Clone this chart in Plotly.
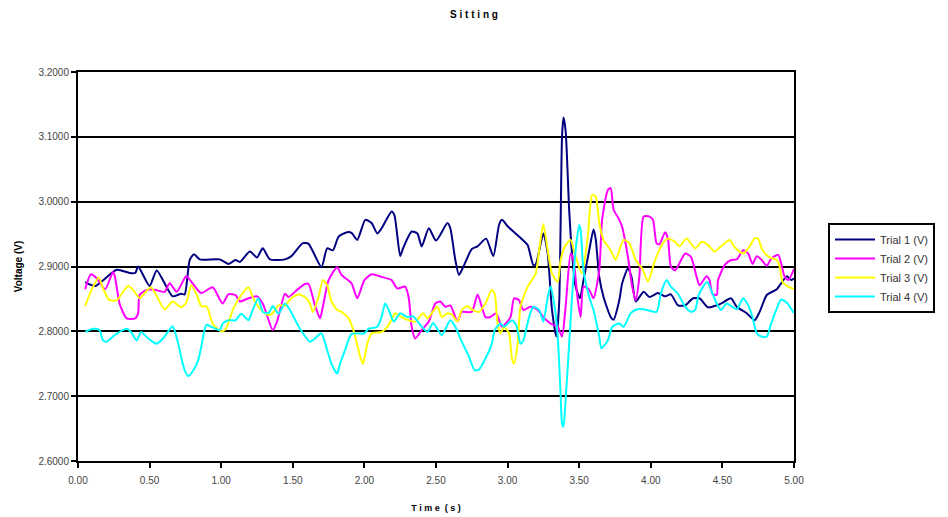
import plotly.graph_objects as go

# Trial 1 (V)
t1 = [0.05, 0.12, 0.27, 0.36, 0.40, 0.42, 0.50, 0.55, 0.66, 0.72, 0.745, 0.78, 0.81, 0.85, 0.99,
      1.05, 1.10, 1.13, 1.20, 1.25, 1.29, 1.34, 1.445, 1.49, 1.57, 1.61, 1.70, 1.74, 1.78, 1.82,
      1.88, 1.91, 1.95, 2.006, 2.05, 2.09, 2.12, 2.19, 2.21, 2.25, 2.27, 2.33, 2.37, 2.40, 2.45,
      2.50, 2.58, 2.60, 2.635, 2.66, 2.69, 2.75, 2.79, 2.85, 2.90, 2.94, 2.96, 3.005, 3.045, 3.11,
      3.14, 3.18, 3.196, 3.25, 3.28, 3.31, 3.34, 3.36, 3.38, 3.39, 3.405, 3.43, 3.45, 3.475, 3.505,
      3.53, 3.57, 3.60, 3.615, 3.64, 3.67, 3.72, 3.74, 3.78, 3.80, 3.84, 3.865, 3.895, 3.95, 3.99,
      4.05, 4.10, 4.14, 4.19, 4.24, 4.295, 4.34, 4.40, 4.46, 4.50, 4.56, 4.60, 4.67, 4.725, 4.76,
      4.81, 4.88, 4.91, 4.95, 4.98, 5.00]
v1 = [2.876, 2.870, 2.895, 2.890, 2.890, 2.900, 2.870, 2.894, 2.854, 2.858, 2.857, 2.910, 2.919, 2.911, 2.911,
      2.904, 2.910, 2.907, 2.923, 2.914, 2.928, 2.911, 2.911, 2.916, 2.936, 2.935, 2.899, 2.928, 2.925, 2.946,
      2.953, 2.952, 2.941, 2.972, 2.967, 2.951, 2.959, 2.985, 2.979, 2.916, 2.928, 2.954, 2.951, 2.931, 2.959,
      2.940, 2.967, 2.959, 2.910, 2.887, 2.899, 2.927, 2.931, 2.943, 2.916, 2.964, 2.972, 2.961, 2.953, 2.940,
      2.933, 2.902, 2.903, 2.951, 2.920, 2.833, 2.792, 2.843, 3.100, 3.130, 3.110, 2.987, 2.920, 2.869, 2.851,
      2.879, 2.925, 2.957, 2.943, 2.884, 2.853, 2.822, 2.818, 2.848, 2.874, 2.897, 2.884, 2.846, 2.861, 2.853,
      2.859, 2.854, 2.857, 2.840, 2.840, 2.851, 2.851, 2.837, 2.840, 2.844, 2.851, 2.838, 2.828, 2.817, 2.830,
      2.856, 2.865, 2.874, 2.885, 2.879, 2.882]

# Trial 2 (V)
t2 = [0.05, 0.09, 0.13, 0.19, 0.245, 0.26, 0.29, 0.34, 0.40, 0.42, 0.43, 0.48, 0.535, 0.605, 0.64,
      0.69, 0.756, 0.80, 0.86, 0.94, 1.01, 1.05, 1.10, 1.13, 1.19, 1.25, 1.29, 1.36, 1.39, 1.445,
      1.47, 1.53, 1.585, 1.61, 1.655, 1.69, 1.71, 1.75, 1.81, 1.84, 1.91, 1.95, 2.00, 2.05, 2.12,
      2.19, 2.23, 2.285, 2.31, 2.33, 2.355, 2.40, 2.45, 2.495, 2.53, 2.565, 2.60, 2.65, 2.68, 2.75,
      2.79, 2.82, 2.845, 2.88, 2.92, 2.96, 3.02, 3.045, 3.08, 3.11, 3.16, 3.21, 3.25, 3.30, 3.35,
      3.38, 3.405, 3.44, 3.46, 3.49, 3.51, 3.53, 3.57, 3.60, 3.64, 3.66, 3.70, 3.72, 3.74, 3.78,
      3.80, 3.84, 3.87, 3.895, 3.92, 3.95, 3.99, 4.015, 4.04, 4.06, 4.10, 4.12, 4.14, 4.17, 4.24,
      4.28, 4.32, 4.34, 4.39, 4.41, 4.43, 4.46, 4.47, 4.515, 4.56, 4.60, 4.645, 4.68, 4.71, 4.74,
      4.77, 4.81, 4.84, 4.89, 4.91, 4.935, 4.96, 5.00]
v2 = [2.865, 2.888, 2.882, 2.865, 2.892, 2.882, 2.843, 2.820, 2.820, 2.828, 2.856, 2.864, 2.864, 2.861, 2.874,
      2.861, 2.885, 2.874, 2.859, 2.868, 2.843, 2.857, 2.856, 2.846, 2.851, 2.854, 2.843, 2.802, 2.815, 2.858,
      2.853, 2.864, 2.873, 2.873, 2.840, 2.820, 2.838, 2.879, 2.899, 2.887, 2.874, 2.851, 2.879, 2.888, 2.884,
      2.879, 2.866, 2.869, 2.851, 2.807, 2.789, 2.802, 2.815, 2.843, 2.846, 2.838, 2.840, 2.815, 2.830, 2.830,
      2.857, 2.838, 2.822, 2.822, 2.828, 2.807, 2.822, 2.851, 2.848, 2.833, 2.838, 2.833, 2.822, 2.812, 2.807,
      2.792, 2.838, 2.920, 2.910, 2.848, 2.822, 2.869, 2.864, 2.851, 2.894, 2.972, 3.018, 3.021, 2.988, 2.972,
      2.961, 2.915, 2.869, 2.848, 2.884, 2.977, 2.977, 2.972, 2.936, 2.934, 2.953, 2.943, 2.900, 2.894, 2.920,
      2.915, 2.884, 2.871, 2.885, 2.879, 2.858, 2.856, 2.879, 2.902, 2.910, 2.911, 2.925, 2.920, 2.904, 2.916,
      2.911, 2.901, 2.912, 2.918, 2.905, 2.884, 2.879, 2.896]

# Trial 3 (V)
t3 = [0.05, 0.095, 0.145, 0.175, 0.22, 0.27, 0.35, 0.38, 0.43, 0.45, 0.51, 0.605, 0.66, 0.72, 0.756,
      0.79, 0.83, 0.86, 0.90, 0.94, 1.00, 1.03, 1.085, 1.14, 1.19, 1.22, 1.27, 1.33, 1.36, 1.40,
      1.445, 1.49, 1.54, 1.585, 1.62, 1.64, 1.68, 1.71, 1.74, 1.77, 1.81, 1.84, 1.89, 1.93, 1.97,
      1.99, 2.02, 2.05, 2.12, 2.17, 2.215, 2.26, 2.31, 2.355, 2.41, 2.44, 2.47, 2.51, 2.54, 2.58,
      2.61, 2.65, 2.68, 2.72, 2.75, 2.80, 2.845, 2.89, 2.91, 2.93, 2.95, 2.975, 3.01, 3.03, 3.045,
      3.07, 3.09, 3.14, 3.196, 3.22, 3.25, 3.28, 3.31, 3.35, 3.37, 3.405, 3.44, 3.475, 3.52, 3.56,
      3.59, 3.615, 3.64, 3.67, 3.72, 3.755, 3.78, 3.81, 3.85, 3.895, 3.94, 3.98, 4.03, 4.085, 4.12,
      4.17, 4.20, 4.25, 4.31, 4.355, 4.40, 4.445, 4.50, 4.55, 4.585, 4.645, 4.68, 4.725, 4.75, 4.78,
      4.83, 4.88, 4.90, 4.92, 4.96, 5.00]
v3 = [2.839, 2.864, 2.883, 2.866, 2.848, 2.848, 2.870, 2.865, 2.851, 2.855, 2.868, 2.834, 2.846, 2.837, 2.844,
      2.871, 2.856, 2.839, 2.838, 2.812, 2.800, 2.803, 2.835, 2.856, 2.868, 2.853, 2.835, 2.825, 2.828, 2.840,
      2.840, 2.851, 2.857, 2.853, 2.843, 2.830, 2.853, 2.879, 2.871, 2.846, 2.833, 2.830, 2.820, 2.797, 2.761,
      2.750, 2.781, 2.797, 2.799, 2.810, 2.828, 2.822, 2.817, 2.815, 2.828, 2.820, 2.828, 2.838, 2.822, 2.828,
      2.826, 2.815, 2.833, 2.839, 2.834, 2.830, 2.843, 2.864, 2.858, 2.812, 2.797, 2.807, 2.797, 2.758, 2.750,
      2.781, 2.838, 2.869, 2.889, 2.925, 2.965, 2.925, 2.889, 2.876, 2.910, 2.933, 2.941, 2.915, 2.889, 2.946,
      3.010, 3.008, 2.967, 2.941, 2.925, 2.910, 2.925, 2.941, 2.936, 2.910, 2.897, 2.877, 2.910, 2.936, 2.943,
      2.938, 2.931, 2.943, 2.928, 2.938, 2.933, 2.923, 2.933, 2.941, 2.930, 2.920, 2.928, 2.943, 2.943, 2.925,
      2.914, 2.910, 2.900, 2.876, 2.869, 2.865]

# Trial 4 (V)
t4 = [0.05, 0.105, 0.15, 0.175, 0.20, 0.255, 0.34, 0.37, 0.41, 0.44, 0.49, 0.55, 0.605, 0.66, 0.70,
      0.72, 0.745, 0.77, 0.80, 0.84, 0.865, 0.896, 0.93, 0.99, 1.01, 1.05, 1.10, 1.14, 1.19, 1.22,
      1.26, 1.29, 1.33, 1.36, 1.40, 1.445, 1.48, 1.55, 1.62, 1.66, 1.70, 1.74, 1.77, 1.81, 1.83,
      1.865, 1.91, 2.00, 2.03, 2.09, 2.12, 2.145, 2.17, 2.205, 2.25, 2.30, 2.34, 2.39, 2.44, 2.48,
      2.54, 2.60, 2.635, 2.68, 2.73, 2.77, 2.80, 2.845, 2.89, 2.91, 2.95, 2.975, 3.03, 3.06, 3.09,
      3.11, 3.15, 3.18, 3.22, 3.25, 3.28, 3.30, 3.325, 3.35, 3.37, 3.38, 3.39, 3.405, 3.43, 3.45,
      3.475, 3.50, 3.51, 3.53, 3.57, 3.60, 3.64, 3.655, 3.70, 3.73, 3.78, 3.81, 3.86, 3.905, 3.95,
      4.04, 4.07, 4.11, 4.14, 4.19, 4.24, 4.28, 4.31, 4.33, 4.365, 4.395, 4.42, 4.46, 4.49, 4.53,
      4.60, 4.645, 4.68, 4.71, 4.74, 4.77, 4.81, 4.84, 4.88, 4.91, 4.95, 5.00]
v4 = [2.799, 2.804, 2.802, 2.786, 2.784, 2.794, 2.804, 2.799, 2.786, 2.799, 2.789, 2.781, 2.792, 2.808, 2.781,
      2.761, 2.740, 2.731, 2.738, 2.756, 2.781, 2.810, 2.807, 2.802, 2.812, 2.817, 2.817, 2.827, 2.817, 2.833,
      2.851, 2.830, 2.828, 2.839, 2.827, 2.843, 2.833, 2.804, 2.784, 2.790, 2.797, 2.771, 2.750, 2.735, 2.750,
      2.771, 2.796, 2.797, 2.804, 2.807, 2.822, 2.843, 2.833, 2.815, 2.828, 2.822, 2.823, 2.810, 2.799, 2.813,
      2.794, 2.817, 2.807, 2.784, 2.761, 2.740, 2.741, 2.758, 2.781, 2.802, 2.812, 2.807, 2.817, 2.810, 2.781,
      2.786, 2.822, 2.838, 2.833, 2.815, 2.853, 2.869, 2.843, 2.792, 2.704, 2.658, 2.653, 2.694, 2.781, 2.853,
      2.925, 2.964, 2.956, 2.894, 2.853, 2.833, 2.792, 2.774, 2.786, 2.807, 2.812, 2.807, 2.828, 2.834, 2.834,
      2.830, 2.858, 2.879, 2.869, 2.858, 2.838, 2.830, 2.833, 2.853, 2.869, 2.876, 2.864, 2.843, 2.833, 2.843,
      2.834, 2.851, 2.840, 2.822, 2.797, 2.792, 2.792, 2.812, 2.835, 2.849, 2.844, 2.828]

names = ["Trial 1 (V)", "Trial 2 (V)", "Trial 3 (V)", "Trial 4 (V)"]
colors = ["#000080", "#FF00FF", "#FFFF00", "#00FFFF"]

x_ticks = [0, 0.5, 1, 1.5, 2, 2.5, 3, 3.5, 4, 4.5, 5]
y_ticks = [2.6, 2.7, 2.8, 2.9, 3.0, 3.1, 3.2]

fig = go.Figure()
for t, v, n, c in zip([t1, t2, t3, t4], [v1, v2, v3, v4], names, colors):
    fig.add_trace(go.Scatter(x=t, y=v, mode="lines", name=n,
                             line=dict(color=c, width=2, shape="spline", smoothing=0.6)))

font_main = "Liberation Sans, Arial, sans-serif"
fig.update_layout(
    width=948, height=517,
    margin=dict(l=78, r=154, t=72, b=56, autoexpand=False),
    paper_bgcolor="white", plot_bgcolor="white",
    font=dict(family=font_main, size=10, color="#333333"),
    title=dict(text="<b>S i t t i n g</b>", x=0.5, xanchor="center", y=0.972, yanchor="middle",
               font=dict(size=10, color="#000000")),
    xaxis=dict(range=[0, 5], tickvals=x_ticks, tickformat=".2f",
               showline=True, linecolor="black", linewidth=2, mirror=True,
               ticks="outside", ticklen=5, tickwidth=1.5, tickcolor="black",
               ticklabelstandoff=4,
               showgrid=False, zeroline=False,
               title=dict(text="<b>T i m e  ( s )</b>", font=dict(size=9, color="#000000"), standoff=20),
               tickfont=dict(size=10, color="#444444")),
    yaxis=dict(range=[2.6, 3.2], tickvals=y_ticks, tickformat=".4f",
               showline=True, linecolor="black", linewidth=2, mirror=True,
               ticks="outside", ticklen=5, tickwidth=1.5, tickcolor="black",
               showgrid=True, gridcolor="black", gridwidth=2, zeroline=False,
               title=dict(text="<b>Voltage (V)</b>", font=dict(size=10, color="#000000"), standoff=14),
               tickfont=dict(size=10, color="#444444")),
    legend=dict(x=1.0475, xanchor="left", y=0.496, yanchor="middle",
                bordercolor="black", borderwidth=2, bgcolor="white",
                font=dict(size=11, color="#333333"),
                itemwidth=40),
    showlegend=True,
)

fig.write_html("out.html")
